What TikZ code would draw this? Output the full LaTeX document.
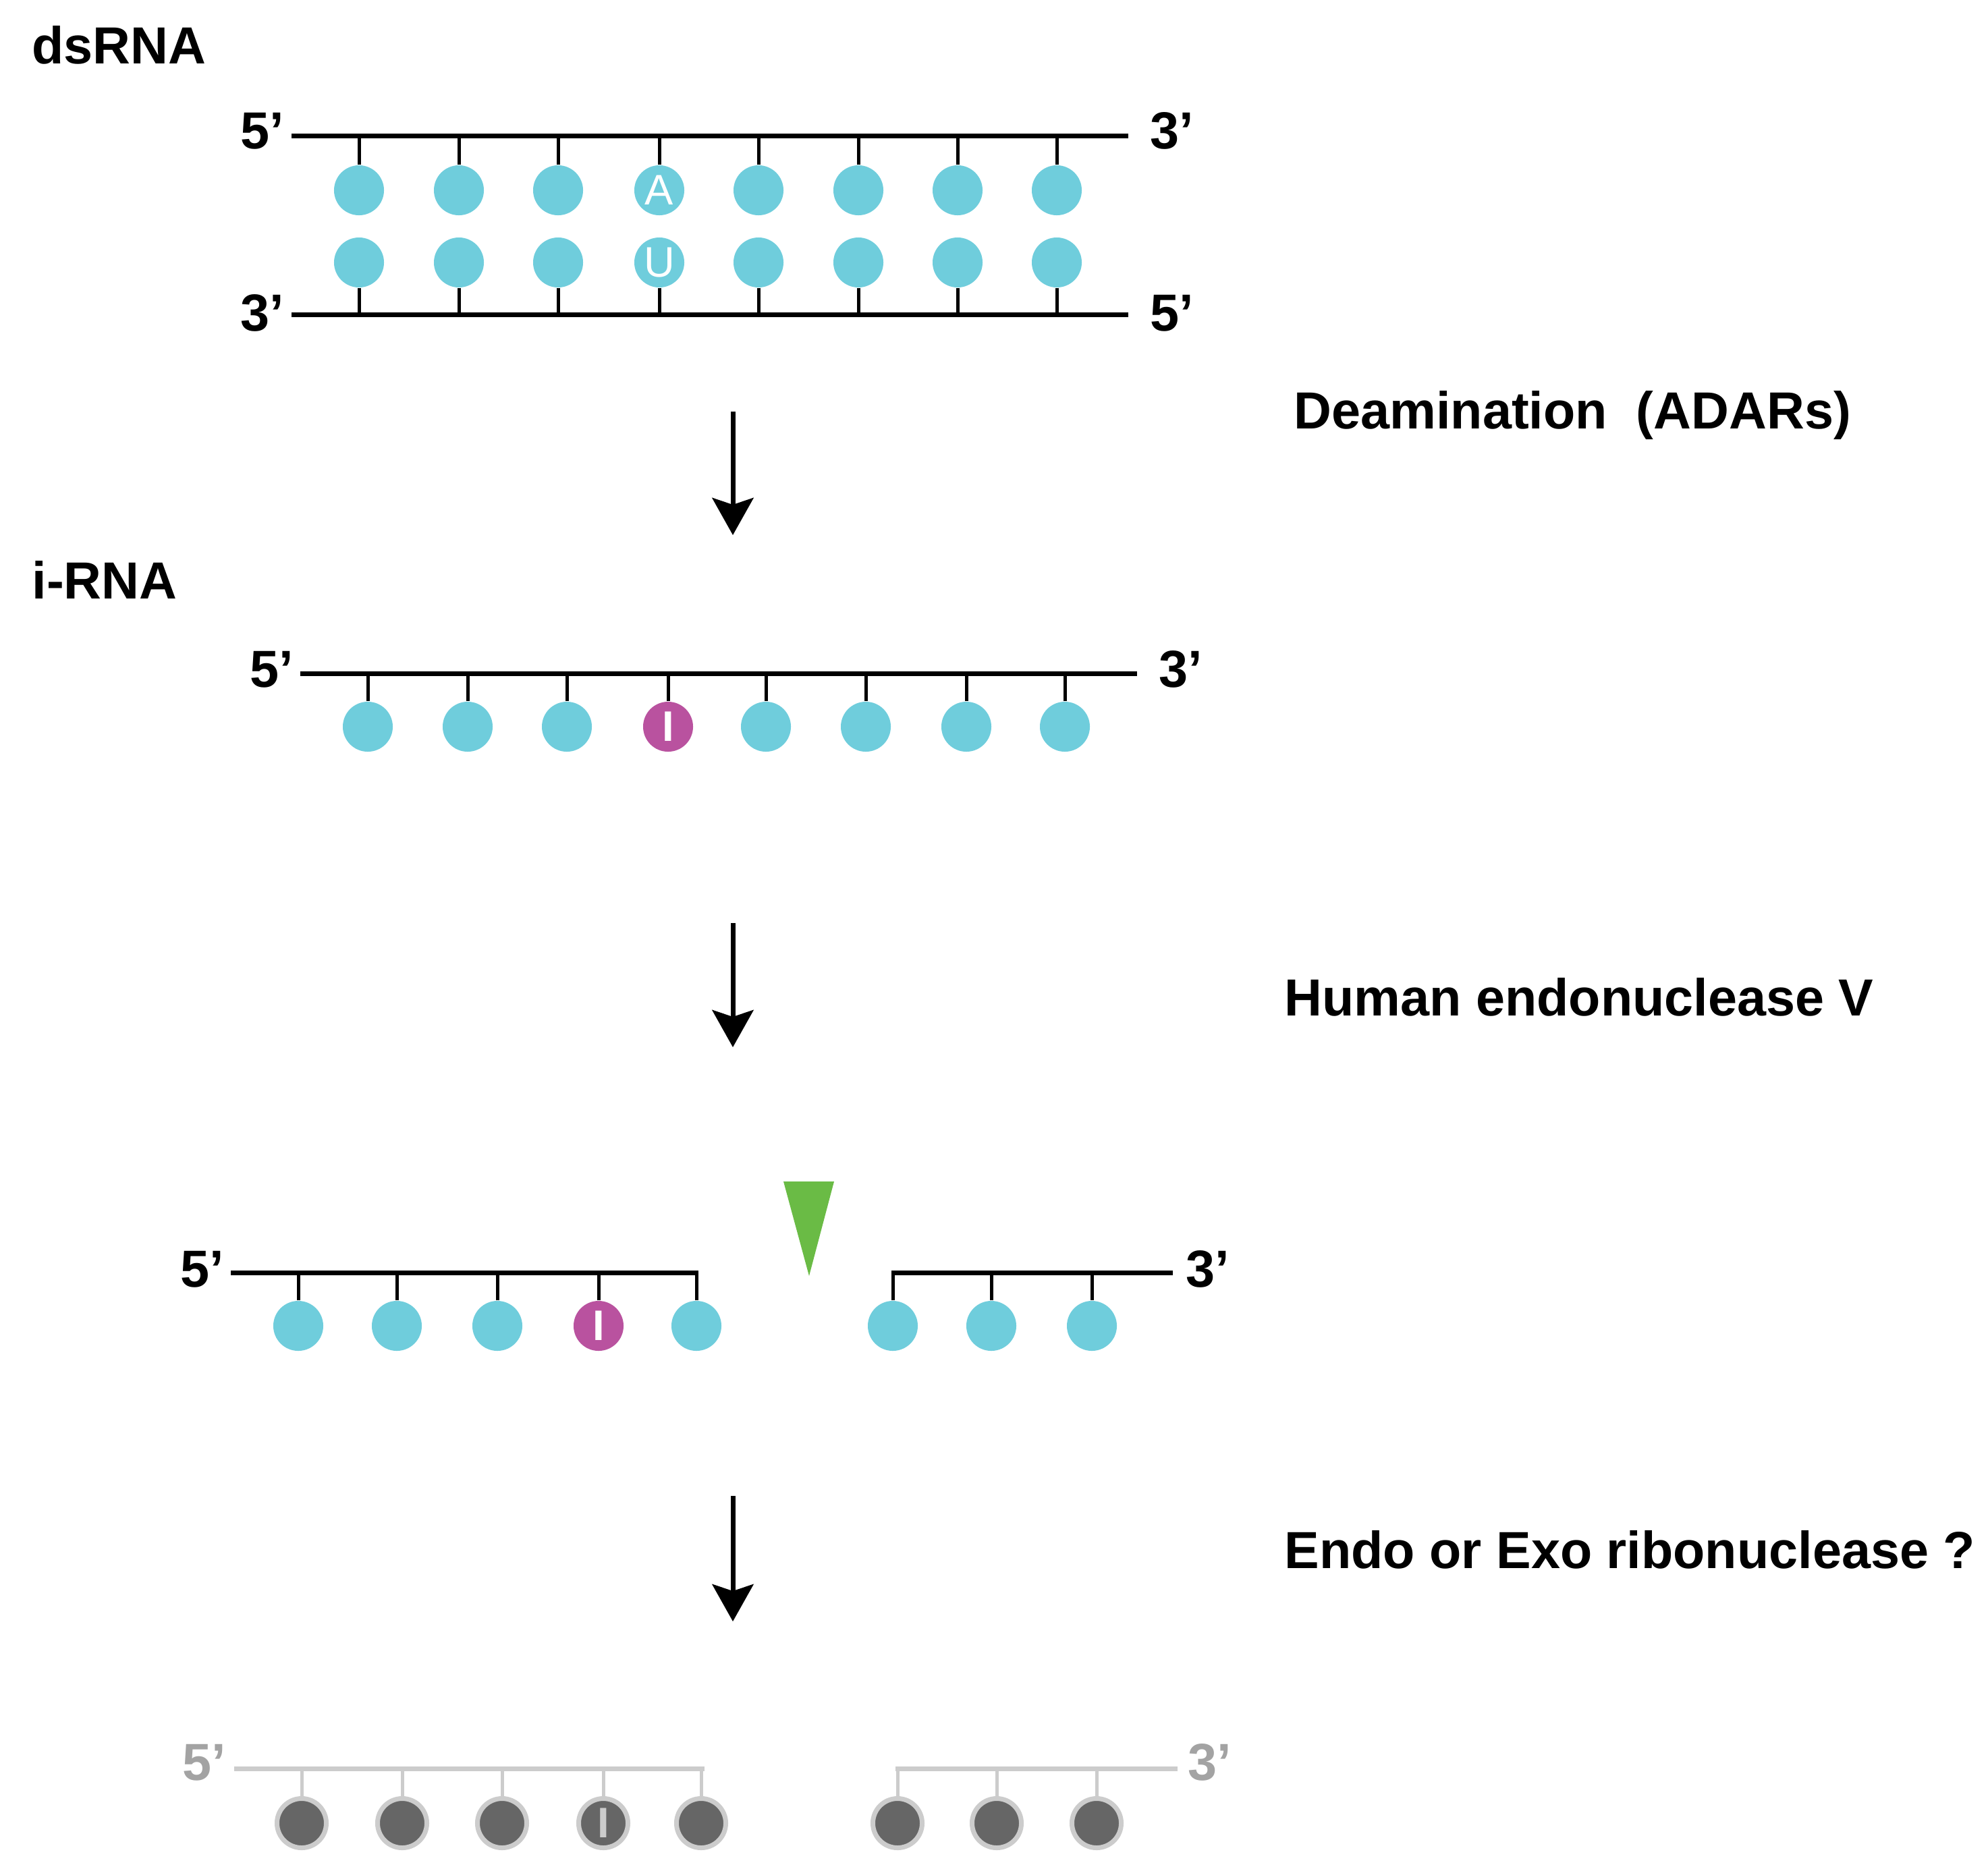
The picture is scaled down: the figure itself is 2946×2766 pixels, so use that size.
\documentclass[tikz,border=0pt]{standalone}
\usepackage{fontspec}
\setmainfont{Liberation Sans}
\usetikzlibrary{arrows.meta, positioning}
\definecolor{rnacyan}{HTML}{6FCDDC}
\definecolor{rnainosine}{HTML}{B9529F}
\definecolor{rnacut}{HTML}{6ABB45}
\definecolor{rnadark}{HTML}{666666}
\definecolor{rnalight}{HTML}{CCCCCC}
\tikzset{
  x=0.01cm, y=-0.01cm,
  >={Stealth[length=5.5mm, width=6.1mm, inset=1mm]},
  base/.style={circle, fill=rnacyan, minimum size=7.4mm, inner sep=0pt,
               text=white, font=\fontsize{18}{18}\selectfont},
  basei/.style={base, fill=rnainosine, font=\fontsize{18}{18}\selectfont\bfseries},
  baseg/.style={base, fill=rnadark, draw=rnalight, line width=0.7mm, minimum size=7.3mm,
                text=rnalight, font=\fontsize{18}{18}\selectfont\bfseries},
  strand/.style={line width=0.7mm, draw=black},
  strandg/.style={strand, draw=rnalight},
  stem/.style={line width=0.5mm, draw=black},
  stemg/.style={stem, draw=rnalight},
  endlbl/.style={anchor=base west, inner sep=0pt, font=\fontsize{22}{22}\selectfont\bfseries},
  endlblg/.style={endlbl, text=rnalight!80!black},
  title/.style={anchor=base west, inner sep=0pt, font=\fontsize{22}{26}\selectfont\bfseries},
  reaction/.style={->, line width=0.7mm, draw=black},
}

\begin{document}
\begin{tikzpicture}
  \useasboundingbox (0,0) rectangle (2946,2766);

  % dsRNA
  \node[title] (ds) at (47,94) {dsRNA};
  \coordinate (dsT5) at (432,201);
  \coordinate (dsT3) at (1672,201);
  \coordinate (dsB3) at (432,466);
  \coordinate (dsB5) at (1672,466);
  \draw[strand] (dsT5) -- (dsT3);
  \draw[strand] (dsB3) -- (dsB5);
  \node[endlbl] (dsT5l) at (356,220) {5’};
  \node[endlbl] (dsT3l) at (1704,220) {3’};
  \node[endlbl] (dsB3l) at (356,490) {3’};
  \node[endlbl] (dsB5l) at (1704,490) {5’};
  \foreach \x/\a/\u [count=\i] in {532//,680//,827//,977/A/U,1124//,1272//,1419//,1566//} {
    \node[base] (dsa\i) at (\x,282) {\a};
    \node[base] (dsu\i) at (\x,389) {\u};
    \draw[stem] (dsa\i.north) -- (dsa\i.north |- dsT5);
    \draw[stem] (dsu\i.south) -- (dsu\i.south |- dsB3);
  }

  \coordinate (a1s) at (1086,610);
  \coordinate (a1e) at (1086,793);
  \draw[reaction] (a1s) -- (a1e);
  \node[title] (deam) at (1917,635) {Deamination\ \ (ADARs)};

  % i-RNA
  \node[title] (irna) at (47,887) {i-RNA};
  \coordinate (i5) at (445,998);
  \coordinate (i3) at (1685,998);
  \draw[strand] (i5) -- (i3);
  \node[endlbl] (i5l) at (370,1018) {5’};
  \node[endlbl] (i3l) at (1717,1018) {3’};
  \foreach \x/\s/\t [count=\i] in {545/base/,693/base/,840/base/,990/basei/I,1135/base/,1283/base/,1432/base/,1578/base/} {
    \node[\s] (ib\i) at (\x,1077) {\t};
    \draw[stem] (ib\i.north) -- (ib\i.north |- i5);
  }

  \coordinate (a2s) at (1086,1368);
  \coordinate (a2e) at (1086,1552);
  \draw[reaction] (a2s) -- (a2e);
  \node[title] (endov) at (1903,1505) {Human endonuclease V};

  % cleavage
  \fill[rnacut] (1161,1751) -- (1236,1751) -- (1199,1891) -- cycle;
  \coordinate (c5) at (342,1886);
  \coordinate (cL) at (1035,1886);
  \coordinate (cR) at (1321,1886);
  \coordinate (c3) at (1738,1886);
  \draw[strand] (c5) -- (cL);
  \draw[strand] (cR) -- (c3);
  \node[endlbl] (c5l) at (267,1907) {5’};
  \node[endlbl] (c3l) at (1757,1907) {3’};
  \foreach \x/\s/\t [count=\i] in {442/base/,588/base/,737/base/,887/basei/I,1032/base/,1323/base/,1469/base/,1618/base/} {
    \node[\s] (cb\i) at (\x,1965) {\t};
    \draw[stem] (cb\i.north) -- (cb\i.north |- c5);
  }

  \coordinate (a3s) at (1086,2217);
  \coordinate (a3e) at (1086,2403);
  \draw[reaction] (a3s) -- (a3e);
  \node[title] (ribo) at (1903,2324) {Endo or Exo ribonuclease ?};

  % degraded
  \coordinate (g5) at (347,2621);
  \coordinate (gL) at (1044,2621);
  \coordinate (gR) at (1327,2621);
  \coordinate (g3) at (1745,2621);
  \draw[strandg] (g5) -- (gL);
  \draw[strandg] (gR) -- (g3);
  \node[endlblg] (g5l) at (270,2638) {5’};
  \node[endlblg] (g3l) at (1760,2638) {3’};
  \foreach \x/\t [count=\i] in {447/,596/,744/,894/I,1039/,1330/,1477/,1625/} {
    \node[baseg] (gb\i) at (\x,2702) {\t};
    \draw[stemg] (gb\i.north) -- (gb\i.north |- g5);
  }
\end{tikzpicture}
\end{document}
